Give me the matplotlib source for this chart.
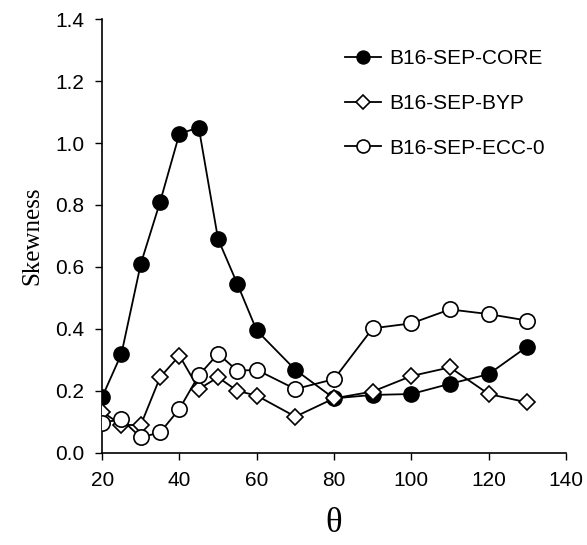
import matplotlib
matplotlib.use("Agg")
import matplotlib.pyplot as plt

# scattering angle
theta = [20, 25, 30, 35, 40, 45, 50, 55, 60, 70, 80, 90, 100, 110, 120, 130]

core = [0.18, 0.32, 0.61, 0.81, 1.03, 1.05, 0.69, 0.545, 0.395, 0.268, 0.176,
        0.187, 0.19, 0.223, 0.254, 0.343]
byp = [0.133, 0.09, 0.09, 0.244, 0.314, 0.206, 0.244, 0.2, 0.185, 0.117, 0.176,
       0.198, 0.248, 0.276, 0.19, 0.163]
ecc = [0.098, 0.108, 0.05, 0.066, 0.142, 0.25, 0.32, 0.265, 0.268, 0.206, 0.238,
       0.402, 0.418, 0.463, 0.448, 0.427]

labels = ["B16-SEP-CORE", "B16-SEP-BYP", "B16-SEP-ECC-0"]
xticks = [20, 40, 60, 80, 100, 120, 140]
yticks = [0.0, 0.2, 0.4, 0.6, 0.8, 1.0, 1.2, 1.4]

plt.rcParams["font.family"] = ["Liberation Sans", "DejaVu Sans"]

fig = plt.figure(figsize=(5.87, 5.45), dpi=100)
ax = fig.add_axes([0.174, 0.169, 0.79, 0.796])

ax.plot(theta, core, "-o", color="black", lw=1.3, ms=11, mfc="black",
        mec="black", label=labels[0], zorder=3)
ax.plot(theta, byp, "-D", color="black", lw=1.3, ms=8, mfc="white",
        mec="black", mew=1.2, label=labels[1], zorder=4)
ax.plot(theta, ecc, "-o", color="black", lw=1.3, ms=11, mfc="white",
        mec="black", mew=1.2, label=labels[2], zorder=5)

ax.set_xlim(20, 140)
ax.set_ylim(0.0, 1.4)
ax.set_xticks(xticks)
ax.set_yticks(yticks)
ax.set_yticklabels([f"{v:.1f}" for v in yticks])
ax.tick_params(direction="out", length=5, width=1, labelsize=15, pad=8)
ax.spines["top"].set_visible(False)
ax.spines["right"].set_visible(False)
for s in ("left", "bottom"):
    ax.spines[s].set_linewidth(1.2)

ax.set_ylabel("Skewness", family="Liberation Serif", fontsize=18, labelpad=8)
ax.set_xlabel("θ", family="Liberation Serif", fontsize=25, labelpad=12)

ax.legend(loc="upper left", bbox_to_anchor=(0.524, 0.931), frameon=False,
          fontsize=15, handlelength=1.7, handletextpad=0.4, labelspacing=1.24,
          borderpad=0, borderaxespad=0, markerscale=0.85)

fig.savefig("out.png", dpi=100)
